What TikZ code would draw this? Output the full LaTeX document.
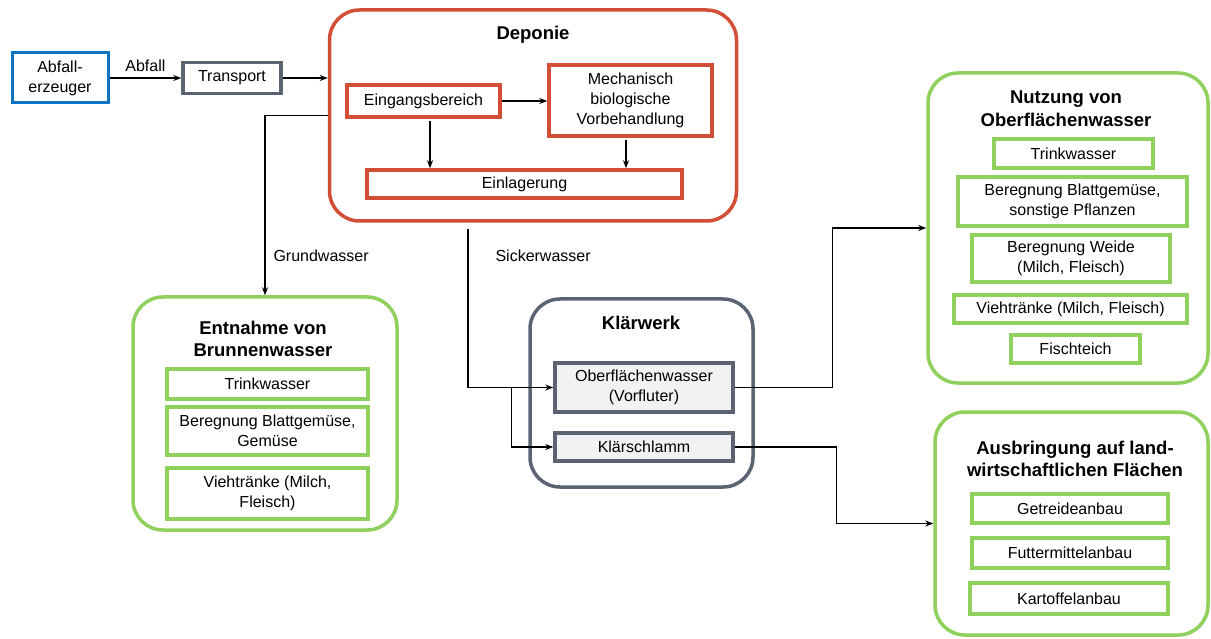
\documentclass[tikz,border=0pt]{standalone}
\usepackage{fontspec}
\setmainfont{Liberation Sans}
\usetikzlibrary{arrows.meta,shadows}
\definecolor{redc}{HTML}{D24E36}
\definecolor{greenc}{HTML}{8FD15C}
\definecolor{grayc}{HTML}{5B6472}
\definecolor{bluec}{HTML}{0B72C4}
\definecolor{fillgray}{HTML}{F2F2F2}
\tikzset{
 shd/.style={drop shadow={opacity=0.18,shadow xshift=1.5pt,shadow yshift=-1.5pt}},
 txt/.style={font=\fontsize{16}{20}\selectfont, align=center},
 ttl/.style={font=\fontsize{18.5}{22.5}\selectfont\bfseries, align=center},
 inbox/.style={draw=#1, line width=3.5pt, fill=white, shd, txt, inner sep=0pt},
 bigbox/.style={draw=#1, line width=3.5pt, fill=white, rounded corners=30pt, shd, inner sep=0pt},
 arr/.style={line width=1.3pt, -{Stealth[length=8pt,width=6pt]}},
 lbl/.style={font=\fontsize{16}{20}\selectfont},
}
\begin{document}
\begin{tikzpicture}[x=1pt,y=-1pt]
\useasboundingbox (0,0) rectangle (1211,639);

% big containers
\node[bigbox=redc, minimum width=407pt, minimum height=211pt] (dep) at (533,115.5) {};
\node[bigbox=grayc, minimum width=223pt, minimum height=188pt] (kw) at (641.5,393) {};
\node[bigbox=greenc, minimum width=280pt, minimum height=310pt] (nutz) at (1068,228) {};
\node[bigbox=greenc, minimum width=264pt, minimum height=233pt] (ent) at (265,413.5) {};
\node[bigbox=greenc, minimum width=273pt, minimum height=223pt] (aus) at (1071.5,523.5) {};

% titles
\node[ttl] (depT) at (533,35) {Deponie};
\node[ttl] (kwT) at (641,323) {Klärwerk};
\node[ttl] (nutzT) at (1066,108.5) {Nutzung von\\Oberflächenwasser};
\node[ttl] (entT) at (263,339) {Entnahme von\\Brunnenwasser};
\node[ttl] (ausT) at (1075,459) {Ausbringung auf land-\\wirtschaftlichen Flächen};

% left chain
\node[inbox=bluec, line width=3pt, minimum width=96pt, minimum height=50pt] (erz) at (60,78) {Abfall-\\erzeuger};
\node[inbox=grayc, minimum width=98pt, minimum height=31pt] (trans) at (232,78) {Transport};

% Deponie contents
\node[inbox=redc, minimum width=153pt, minimum height=32pt] (ein) at (423.5,101) {Eingangsbereich};
\node[inbox=redc, minimum width=163pt, minimum height=71pt] (mech) at (630.5,100.5) {Mechanisch\\biologische\\Vorbehandlung};
\node[inbox=redc, minimum width=315pt, minimum height=28pt] (einl) at (524.5,184) {Einlagerung};

% Klaerwerk contents
\node[inbox=grayc, fill=fillgray, minimum width=178pt, minimum height=49pt] (ofw) at (644,387.5) {Oberflächenwasser\\(Vorfluter)};
\node[inbox=grayc, fill=fillgray, minimum width=178pt, minimum height=28pt] (ks) at (644,447) {Klärschlamm};

% Nutzung contents
\node[inbox=greenc, minimum width=159pt, minimum height=29pt] (n1) at (1073.5,153.5) {Trinkwasser};
\node[inbox=greenc, minimum width=229pt, minimum height=49pt] (n2) at (1072.5,201.5) {Beregnung Blattgemüse,\\sonstige Pflanzen};
\node[inbox=greenc, minimum width=198pt, minimum height=47pt] (n3) at (1071,258.5) {Beregnung Weide\\(Milch, Fleisch)};
\node[inbox=greenc, minimum width=233pt, minimum height=28pt] (n4) at (1070.5,309) {Viehtränke (Milch, Fleisch)};
\node[inbox=greenc, minimum width=129pt, minimum height=28pt] (n5) at (1075.5,349) {Fischteich};

% Ausbringung contents
\node[inbox=greenc, minimum width=196pt, minimum height=29pt] (a1) at (1070,508.5) {Getreideanbau};
\node[inbox=greenc, minimum width=196pt, minimum height=30pt] (a2) at (1070,553) {Futtermittelanbau};
\node[inbox=greenc, minimum width=198pt, minimum height=31pt] (a3) at (1069,598.5) {Kartoffelanbau};

% Entnahme contents
\node[inbox=greenc, minimum width=201pt, minimum height=30pt] (e1) at (267.5,384) {Trinkwasser};
\node[inbox=greenc, minimum width=201pt, minimum height=48pt] (e2) at (267.5,431) {Beregnung Blattgemüse,\\Gemüse};
\node[inbox=greenc, minimum width=201pt, minimum height=51pt] (e3) at (267.5,493.5) {Viehtränke (Milch,\\Fleisch)};

% connectors
\draw[arr] (erz.east) -- node[lbl, above=2pt] (abfL) {Abfall} (trans.west);
\draw[arr] (trans.east) -- (trans.east -| dep.west);
\draw[arr] (ein.east) -- (ein.east -| mech.west);
\draw[arr, shorten <=2pt] ([xshift=6.5pt]ein.south) -- ([xshift=6.5pt]ein.south |- einl.north);
\draw[arr, shorten <=2pt] ([xshift=-4.5pt]mech.south) -- ([xshift=-4.5pt]mech.south |- einl.north);
\draw[arr] (dep.west) -| (ent.north);
\node[lbl, anchor=west] (gwL) at (270,256) {Grundwasser};
\coordinate (sw) at ([xshift=-65pt,yshift=-6pt]dep.south);
\draw[arr] (sw) |- (ofw.west);
\coordinate (br) at ([xshift=-42pt]ofw.west);
\draw[arr] (br) |- (ks.west);
\node[lbl, anchor=west] (swL) at (492,256) {Sickerwasser};
\draw[arr] (ofw.east) -- ([xshift=98pt]ofw.east) |- (nutz.west);
\draw[arr] (ks.east) -- ([xshift=102pt]ks.east) |- (aus.west);
\end{tikzpicture}
\end{document}
